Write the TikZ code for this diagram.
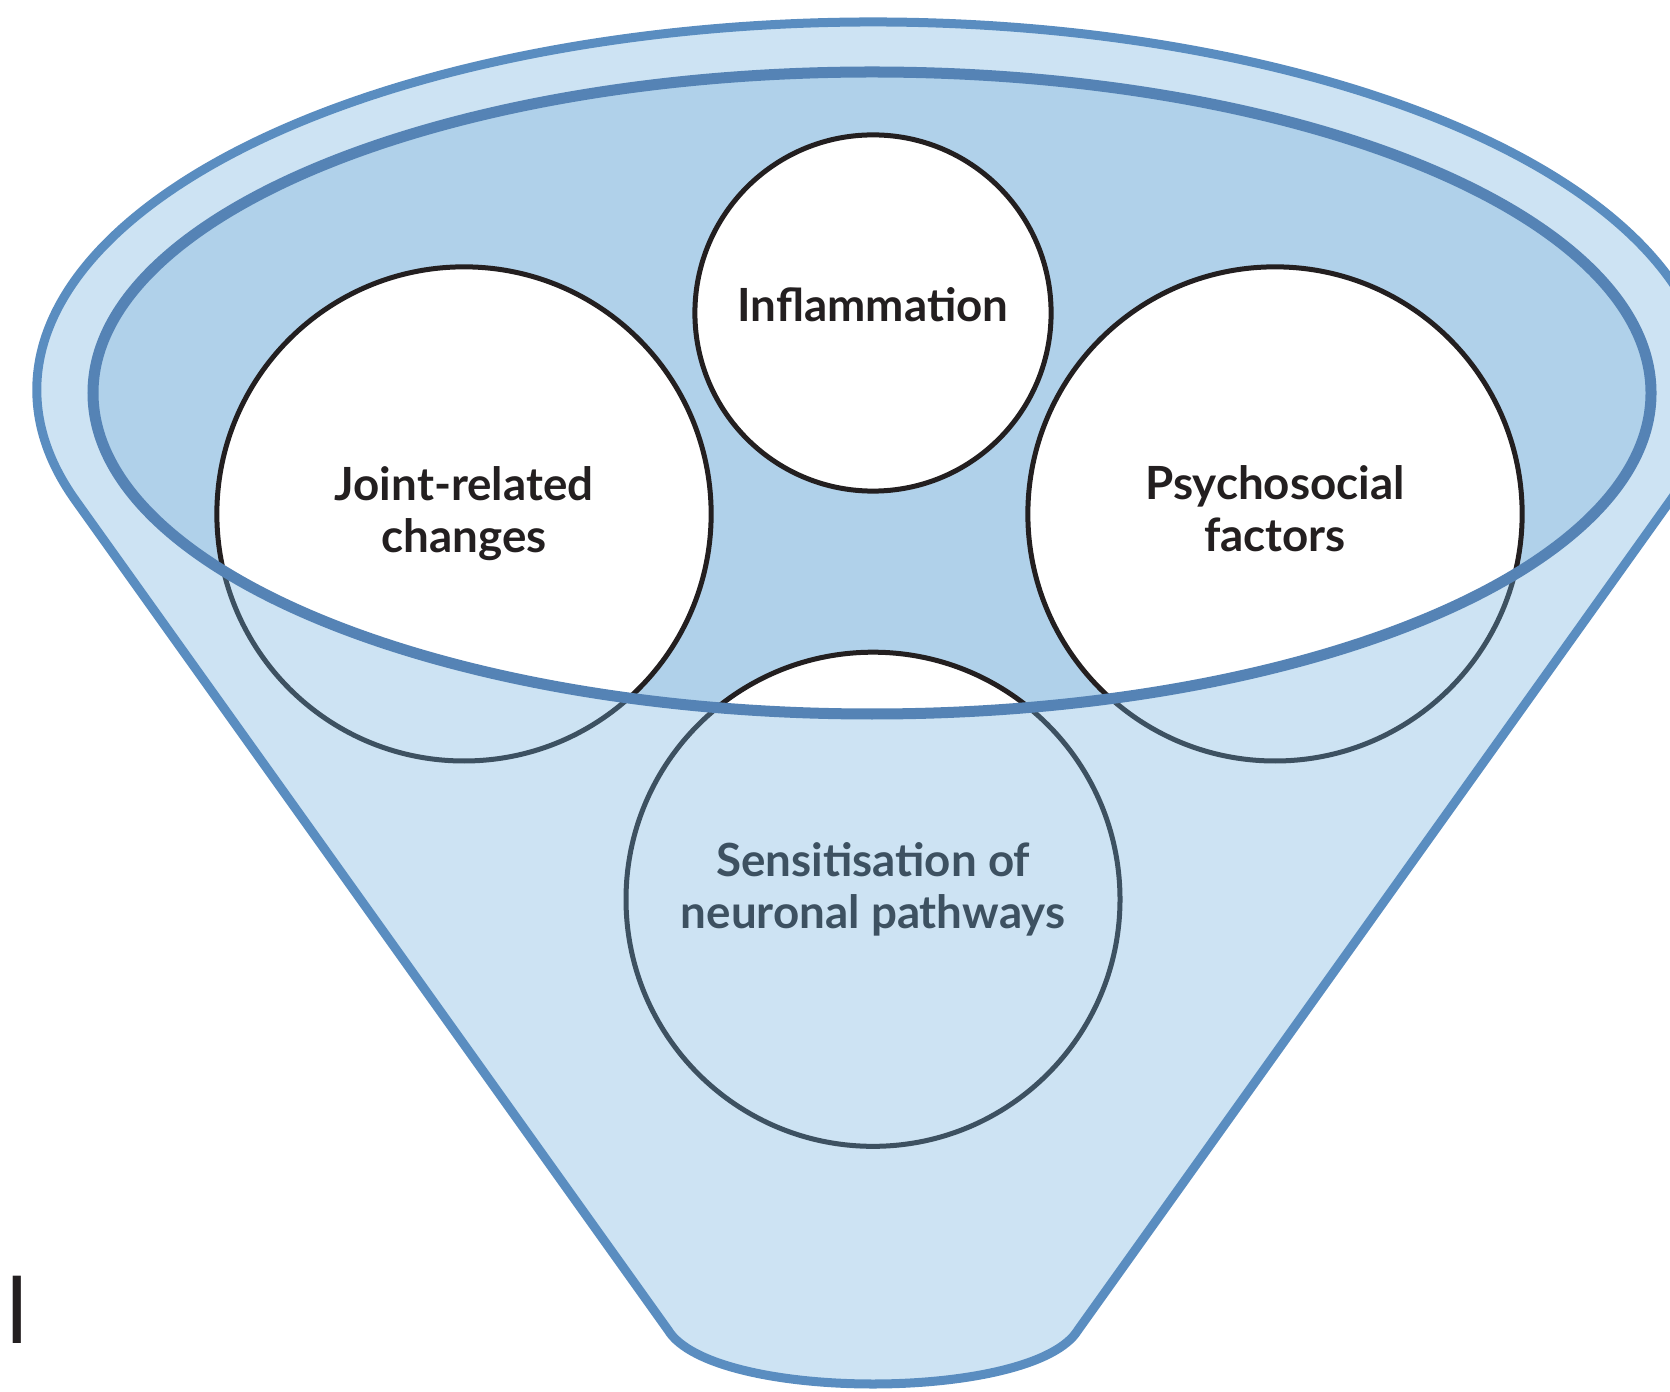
\documentclass[tikz,border=0pt]{standalone}
\usepackage{fontspec}
\setmainfont{Lato}
\usepackage{tikz}
\usetikzlibrary{positioning}

\definecolor{funnelfill}{HTML}{CDE3F3}
\definecolor{mouthfill}{HTML}{B0D1EA}
\definecolor{rimblue}{HTML}{5583B5}
\definecolor{edgeblue}{HTML}{5A8DC0}
\definecolor{ink}{HTML}{231F20}
\definecolor{slate}{HTML}{3D5161}

\tikzstyle{factor}=[
	circle,
	draw=ink,
	fill=white,
	line width=0.05cm,
	inner sep=0pt
]
\tikzstyle{bigfactor}=[
	factor,
	minimum size=4.94cm
]
\tikzstyle{smallfactor}=[
	factor,
	minimum size=3.56cm
]
\tikzstyle{caption}=[
	font=\bfseries\fontsize{13}{14.8}\selectfont,
	text=ink,
	align=center
]
\tikzstyle{hidden}=[
	draw=slate,
	line width=0.05cm
]

% funnel outline and the mouth of the funnel
\newcommand{\funnelpath}{(75.7,500.7) arc[start angle=162.5, end angle=377.5, x radius=836, y radius=368]
	-- (1078,1330) .. controls (1034,1402) and (712,1402) .. (668,1330) -- cycle}
\newcommand{\mouthpath}{(872,393) ellipse[x radius=779, y radius=321]}

\begin{document}
\begin{tikzpicture}[x=0.01cm, y=-0.01cm]
\useasboundingbox (0,0) rectangle (1670,1392);

\fill[funnelfill] \funnelpath;
\fill[mouthfill] \mouthpath;

\node[smallfactor] (infl) at (873,313) {};
\node[bigfactor] (joint) at (464,514) {};
\node[bigfactor] (psy) at (1275,514) {};
\node[bigfactor, below=1.56cm of infl] (sens) {};

\node[caption, yshift=0.08cm] at (infl) {Inflammation};
\node[caption] at (joint) {Joint-related\\changes};
\node[caption, yshift=0.05cm] at (psy) {Psychosocial\\factors};

% front wall of the funnel hides the lower parts
\begin{scope}[even odd rule]
	\clip \funnelpath \mouthpath;
	\fill[funnelfill] \funnelpath;
	\draw[hidden] (joint.center) circle[radius=247];
	\draw[hidden] (psy.center) circle[radius=247];
	\draw[hidden] (sens.center) circle[radius=247];
\end{scope}
\node[caption, text=slate, yshift=0.1cm] at (sens) {Sensitisation of\\neuronal pathways};

\draw[rimblue, line width=0.11cm] \mouthpath;
\draw[edgeblue, line width=0.09cm, line join=round] \funnelpath;

\node[anchor=base east, inner sep=0pt, text=ink, font=\fontsize{26}{30}\selectfont] (tail) at (29,1343) {a\kern1.2pt l};
\end{tikzpicture}
\end{document}
